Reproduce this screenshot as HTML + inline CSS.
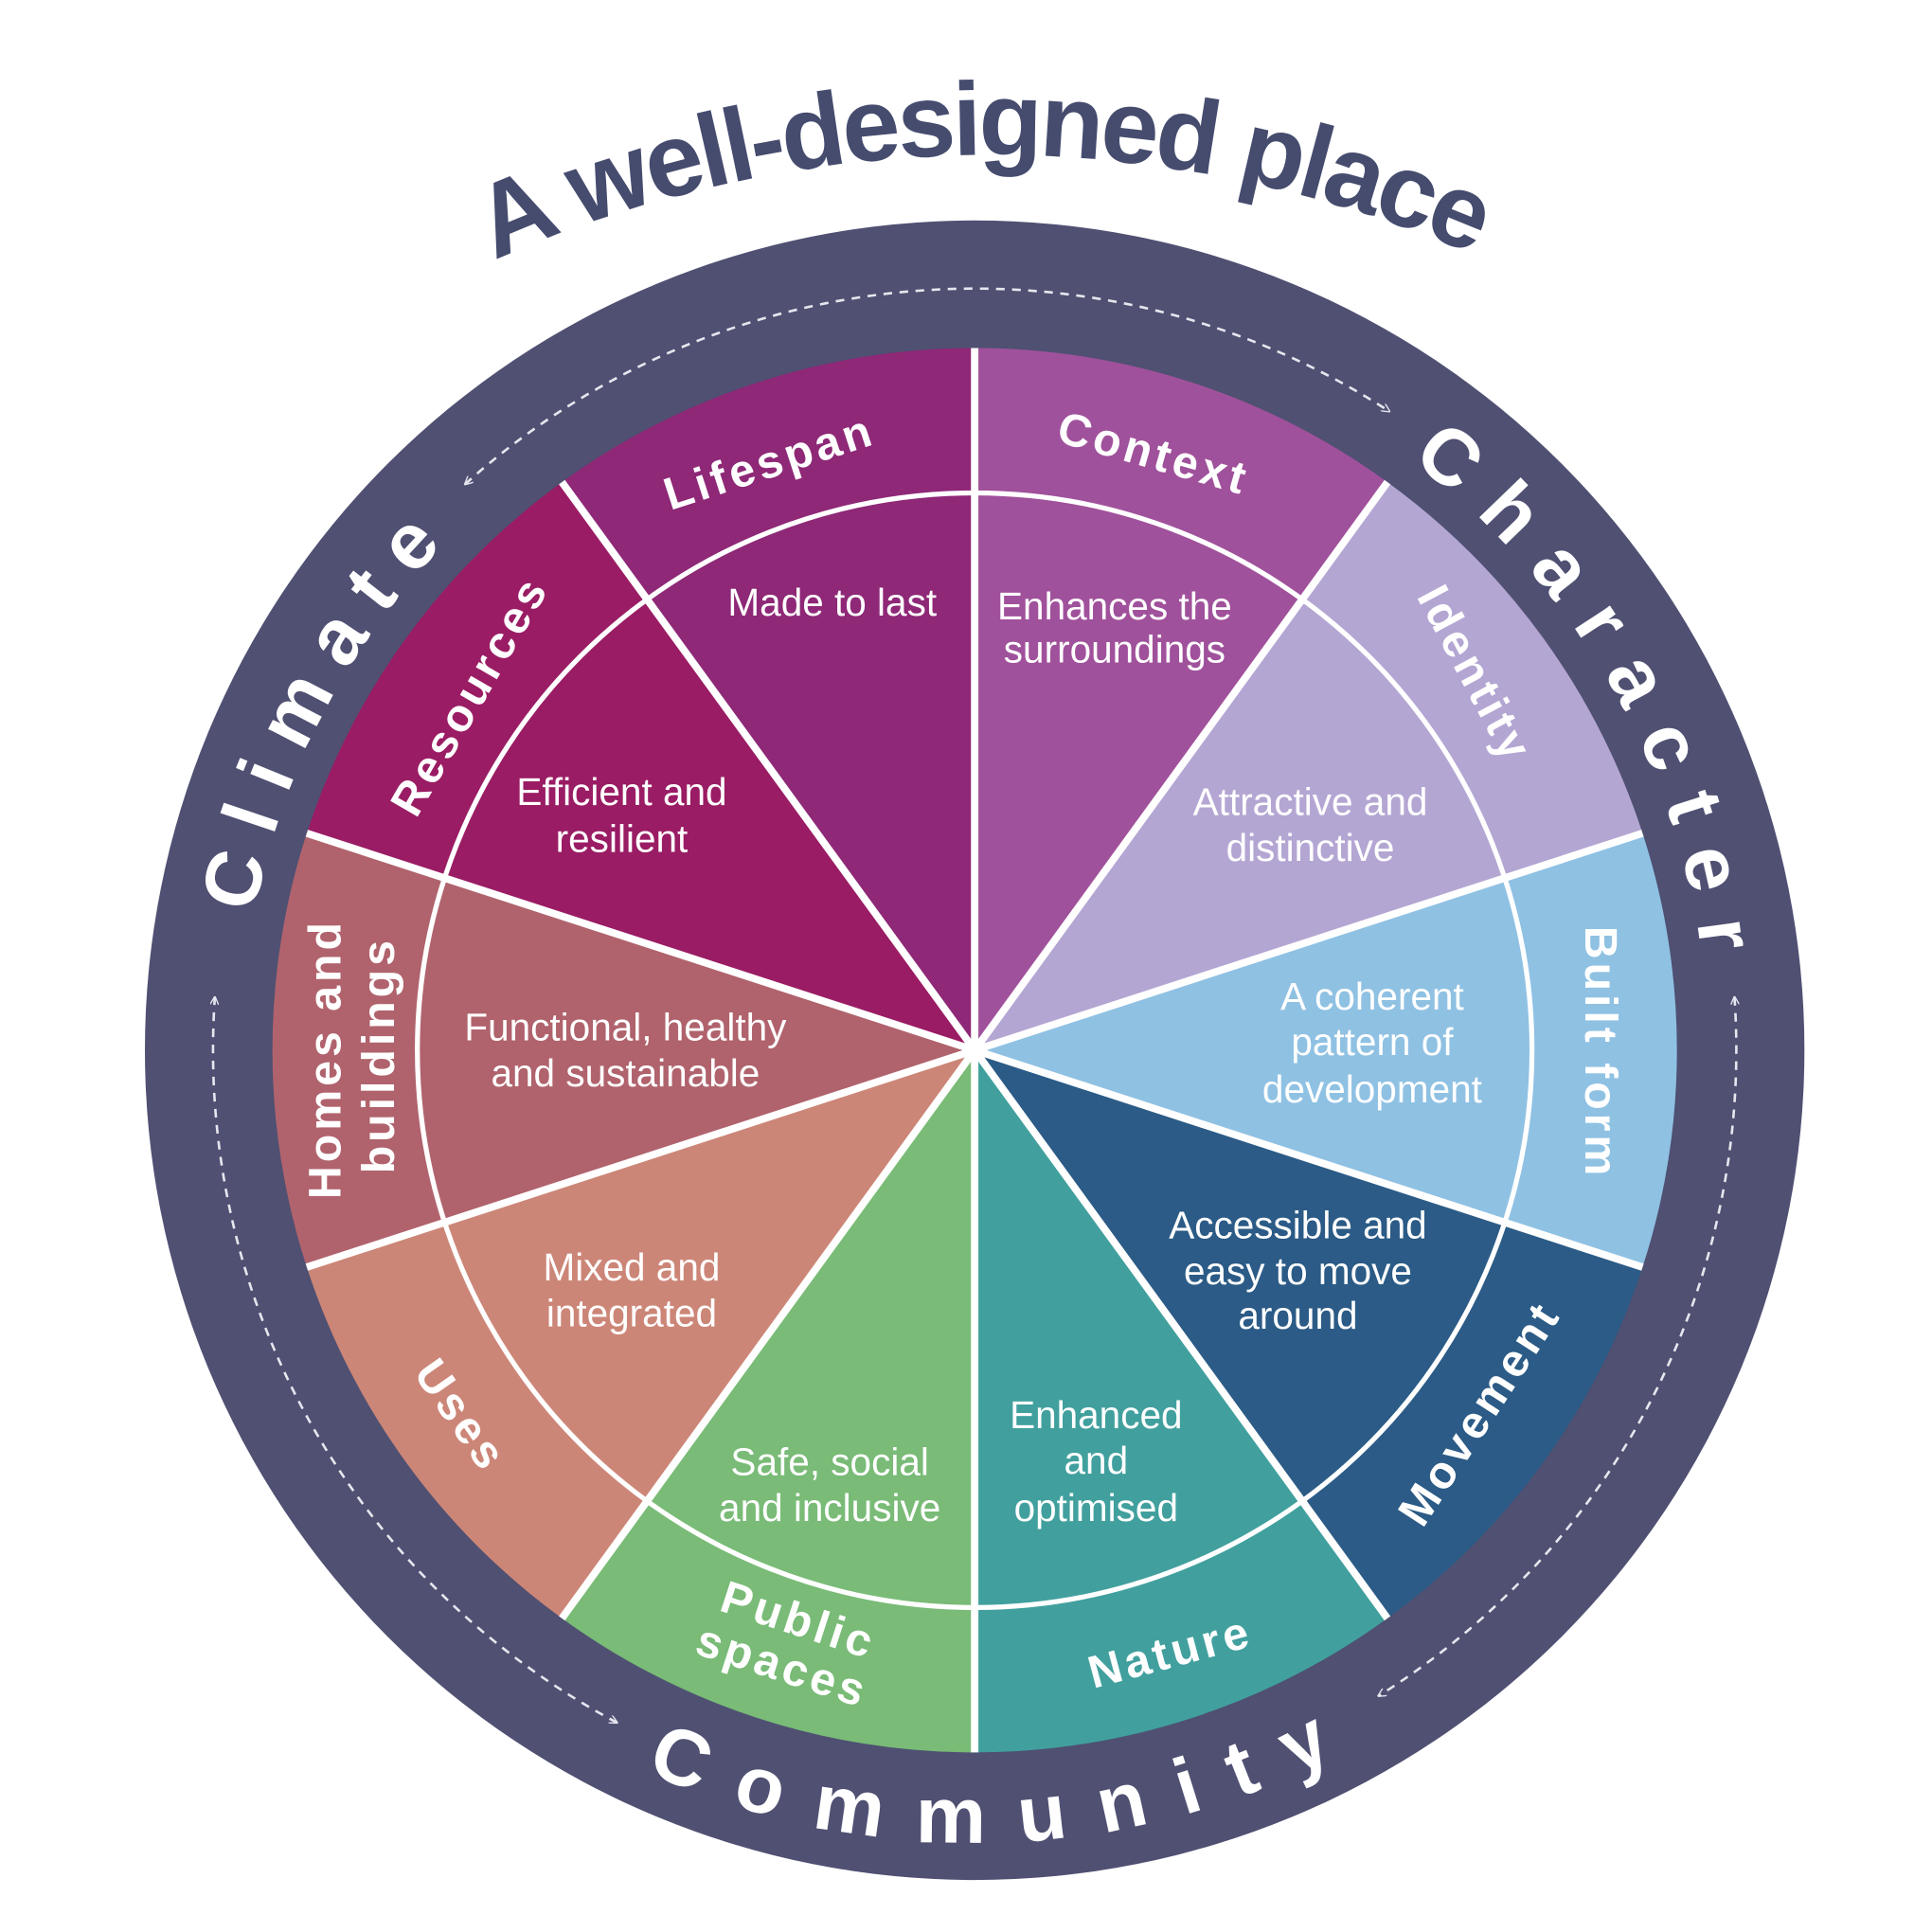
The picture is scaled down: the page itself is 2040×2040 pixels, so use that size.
<!DOCTYPE html>
<html><head><meta charset="utf-8"><style>
html,body{margin:0;padding:0;background:#fff;}
svg{display:block;}
.in{font-family:"Liberation Sans",sans-serif;font-size:31px;fill:#fff;text-anchor:middle;}
.seg{font-family:"Liberation Sans",sans-serif;font-size:37px;font-weight:bold;fill:#fff;text-anchor:middle;letter-spacing:3px;}
.ring{font-family:"Liberation Sans",sans-serif;font-size:64px;font-weight:bold;fill:#fff;text-anchor:middle;}
</style></head><body>
<svg width="2040" height="2040" viewBox="0 0 1560 1560" xmlns="http://www.w3.org/2000/svg">
<defs>
<marker id="ar" viewBox="0 0 10 10" refX="9" refY="5" markerWidth="7" markerHeight="7" orient="auto-start-reverse" markerUnits="userSpaceOnUse">
<path d="M0,0 L10,5 L0,10" fill="none" stroke="#e6e6ee" stroke-width="1.5"/>
</marker>
<path id="tp" d="M167.5,355.2 A984,984 0 0 1 1432.5,355.2"/>
<path id="cl" d="M230.7,1050.5 A592,592 0 0 1 643.8,273.6"/>
<path id="ch" d="M910.1,268.9 A592,592 0 0 1 1353.1,1021.1"/>
<path id="co" d="M311.4,1276.2 A640,640 0 0 0 1291.3,1242"/>
</defs>
<rect width="1560" height="1560" fill="#fff"/>
<text font-family="Liberation Sans,sans-serif" font-size="84" font-weight="bold" fill="#464c6e" text-anchor="middle" letter-spacing="-3"><textPath href="#tp" startOffset="49.5%">A well-designed place</textPath></text>
<circle cx="787" cy="848" r="670" fill="#4f5072"/>
<g fill="none" stroke="#e6e6ee" stroke-width="2" stroke-dasharray="7 6" marker-start="url(#ar)" marker-end="url(#ar)">
<path d="M375.5,391 A615,615 0 0 1 1121.9,332.2"/>
<path d="M1400.5,805 A615,615 0 0 1 1112.9,1369.5"/>
<path d="M498.3,1391 A615,615 0 0 1 173.5,805"/>
</g>
<path d="M787,848 L787,281 A567,567 0 0 1 1120.3,389.3Z" fill="#a0519b"/>
<path d="M787,848 L1120.3,389.3 A567,567 0 0 1 1326.3,672.8Z" fill="#b4a6d3"/>
<path d="M787,848 L1326.3,672.8 A567,567 0 0 1 1326.3,1023.2Z" fill="#8fc1e3"/>
<path d="M787,848 L1326.3,1023.2 A567,567 0 0 1 1120.3,1306.7Z" fill="#2b5b86"/>
<path d="M787,848 L1120.3,1306.7 A567,567 0 0 1 787,1415Z" fill="#41a09e"/>
<path d="M787,848 L787,1415 A567,567 0 0 1 453.7,1306.7Z" fill="#79bb77"/>
<path d="M787,848 L453.7,1306.7 A567,567 0 0 1 247.7,1023.2Z" fill="#cc8677"/>
<path d="M787,848 L247.7,1023.2 A567,567 0 0 1 247.7,672.8Z" fill="#b0636d"/>
<path d="M787,848 L247.7,672.8 A567,567 0 0 1 453.7,389.3Z" fill="#9a1c64"/>
<path d="M787,848 L453.7,389.3 A567,567 0 0 1 787,281Z" fill="#8e2877"/>
<g stroke="#fff" stroke-width="6" fill="none">
<circle cx="787" cy="848" r="450" stroke-width="4"/>
<path d="M787,848 L787,281 M787,848 L1120.3,389.3 M787,848 L1326.3,672.8 M787,848 L1326.3,1023.2 M787,848 L1120.3,1306.7 M787,848 L787,1415 M787,848 L453.7,1306.7 M787,848 L247.7,1023.2 M787,848 L247.7,672.8 M787,848 L453.7,389.3"/>
</g>
<text class="ring" letter-spacing="18"><textPath href="#cl" startOffset="50%">Climate</textPath></text>
<text class="ring" letter-spacing="22"><textPath href="#ch" startOffset="51%">Character</textPath></text>
<text class="ring" letter-spacing="28"><textPath href="#co" startOffset="50.5%">Community</textPath></text>
<text class="seg" transform="translate(625,385) rotate(-18)">Lifespan</text>
<text class="seg" transform="translate(928,378) rotate(16)">Context</text>
<text class="seg" transform="translate(1180,550) rotate(62)">Identity</text>
<text class="seg" transform="translate(1280,850) rotate(90)">Built form</text>
<text class="seg" transform="translate(1205,1148) rotate(-57)">Movement</text>
<text class="seg" transform="translate(948,1346) rotate(-15)">Nature</text>
<text class="seg" transform="translate(641,1320) rotate(18)">Public</text>
<text class="seg" transform="translate(628,1357) rotate(18)">spaces</text>
<text class="seg" transform="translate(362,1150) rotate(55)">Uses</text>
<text class="seg" transform="translate(275,855) rotate(-90)">Homes and</text>
<text class="seg" transform="translate(318,852) rotate(-90)">buildings</text>
<text class="seg" transform="translate(390,568) rotate(-60)">Resources</text>
<text class="in" x="672" y="497">Made to last</text>
<text class="in" x="900" y="500">Enhances the</text>
<text class="in" x="900" y="535">surroundings</text>
<text class="in" x="1058" y="658">Attractive and</text>
<text class="in" x="1058" y="695">distinctive</text>
<text class="in" x="1108" y="815">A coherent</text>
<text class="in" x="1108" y="852">pattern of</text>
<text class="in" x="1108" y="890">development</text>
<text class="in" x="1048" y="1000">Accessible and</text>
<text class="in" x="1048" y="1037">easy to move</text>
<text class="in" x="1048" y="1073">around</text>
<text class="in" x="885" y="1153">Enhanced</text>
<text class="in" x="885" y="1190">and</text>
<text class="in" x="885" y="1228">optimised</text>
<text class="in" x="670" y="1191">Safe, social</text>
<text class="in" x="670" y="1228">and inclusive</text>
<text class="in" x="510" y="1034">Mixed and</text>
<text class="in" x="510" y="1071">integrated</text>
<text class="in" x="505" y="840">Functional, healthy</text>
<text class="in" x="505" y="877">and sustainable</text>
<text class="in" x="502" y="650">Efficient and</text>
<text class="in" x="502" y="688">resilient</text>
</svg>
</body></html>
